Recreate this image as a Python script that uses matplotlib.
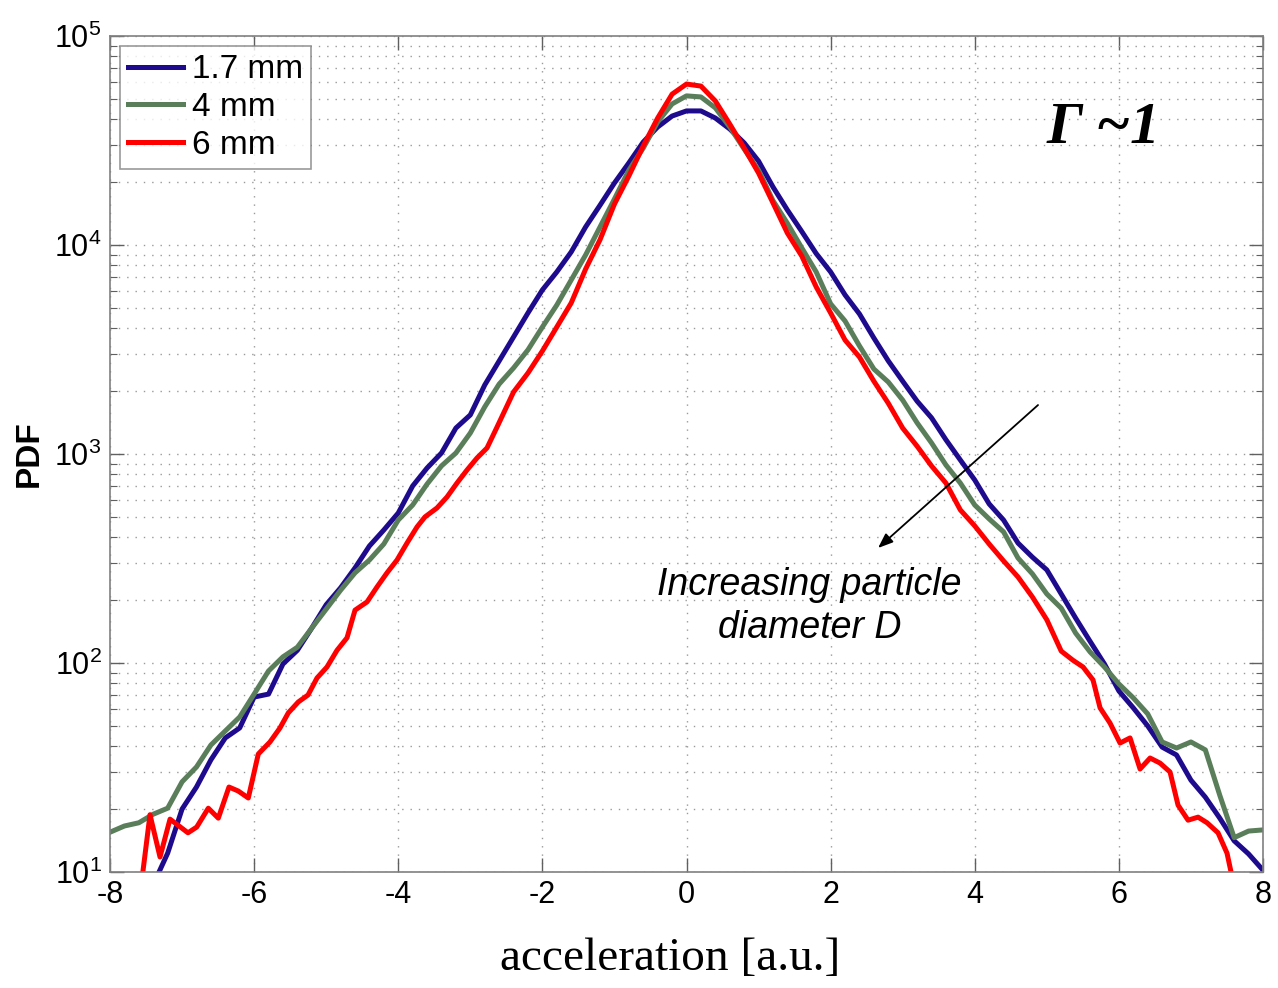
import numpy as np
import matplotlib
matplotlib.use("Agg")
import matplotlib.pyplot as plt
from matplotlib.ticker import LogLocator, FixedLocator

# ---------------- data ----------------
grid_x = [round(-8 + 0.2 * i, 1) for i in range(81)]

blue_y = [4, 5, 6.5, 8.7, 12.3, 20, 25.5, 34.4, 43.8, 48.9,
          68.7, 71, 98.9, 115, 147, 190, 229, 285, 363, 433,
          522, 703, 857, 1011, 1331, 1538, 2138, 2786, 3630, 4730,
          6095, 7430, 9260, 12200, 15500, 19800, 24700, 31100, 36700, 41400,
          43800, 43800, 40500, 35900, 30800, 25200, 18960, 14700, 11600, 9100,
          7430, 5770, 4680, 3590, 2790, 2230, 1790, 1490, 1170, 936,
          751, 577, 483, 375, 321, 279, 214, 164, 127, 98.9,
          73.5, 61, 50, 39.6, 36.3, 27.5, 22.8, 18.1, 14.1, 12.2,
          10.2]

green_y = [15.5, 16.6, 17.2, 18.9, 20.2, 27, 31.8, 40.5, 47.3, 55.2,
           71, 91.6, 107, 119, 147, 181, 223, 270, 311, 371,
           483, 570, 718, 877, 1011, 1260, 1680, 2160, 2580, 3150,
           4050, 5160, 6800, 8960, 12200, 16600, 22800, 29100, 38800, 47300,
           51700, 51100, 45300, 36700, 28800, 22800, 16300, 12700, 9680, 7430,
           5230, 4330, 3290, 2550, 2210, 1810, 1410, 1130, 886, 726,
           570, 489, 424, 318, 267, 214, 183, 139, 113, 95.7,
           79.4, 68.1, 57.1, 41.9, 39.2, 41.9, 38.4, 23.3, 14.6, 15.7,
           15.9]

red_x = [-7.6, -7.445, -7.306, -7.167, -6.918, -6.797, -6.636, -6.497, -6.349, -6.22,
         -6.081, -5.942, -5.78, -5.641, -5.526, -5.387, -5.252, -5.127, -4.989, -4.85,
         -4.711, -4.6, -4.433, -4.295, -4.156, -4.017, -3.878, -3.739, -3.629, -3.462,
         -3.323, -3.185, -3.046, -2.907, -2.768, -2.629,
         -2.4, -2.2, -2.0, -1.8, -1.6, -1.4, -1.2, -1.0, -0.8, -0.6,
         -0.4, -0.2, 0.0, 0.2, 0.4, 0.6, 0.8, 1.0, 1.2, 1.4,
         1.6, 1.8, 2.0, 2.2, 2.4, 2.6, 2.8, 3.0, 3.2, 3.4,
         3.6, 3.8, 4.0, 4.2, 4.4, 4.6, 4.8, 5.0, 5.2,
         5.364, 5.503, 5.641, 5.739, 5.877, 6.016, 6.155, 6.294, 6.433, 6.571,
         6.71, 6.821, 6.96, 7.099, 7.224, 7.376, 7.501, 7.6]
red_y = [7, 18.8, 11.8, 17.9, 15.4, 16.4, 20.2, 18.1, 25.5, 24.4,
         22.6, 36.7, 41.9, 48.9, 57.7, 65.1, 70.3, 84.8, 95.7, 115,
         132, 179, 196, 231, 270, 311, 375, 448, 500, 552,
         623, 726, 838, 957, 1069, 1346,
         1980, 2440, 3110, 4050, 5280, 7670, 10600, 15700, 21400, 29800,
         40500, 52700, 58900, 57600, 48900, 37900, 29100, 22100, 15900, 11400,
         8850, 6300, 4730, 3510, 2910, 2230, 1750, 1330, 1090, 877,
         726, 540, 453, 371, 308, 258, 207, 161, 114,
         103, 95.7, 83, 61, 51.6, 41.4, 43.8, 31.1, 35.1, 33.2,
         30.1, 20.9, 17.7, 18.3, 17.2, 15.4, 12.3, 8.5]

labels = ["1.7 mm", "4 mm", "6 mm"]
colors = ["#1e0a8c", "#5a7d5a", "#ff0000"]
x_ticks = [-8, -6, -4, -2, 0, 2, 4, 6, 8]

# ---------------- figure ----------------
sans = ["Liberation Sans", "DejaVu Sans"]
plt.rcParams["font.family"] = sans
plt.rcParams["mathtext.fontset"] = "custom"
plt.rcParams["mathtext.rm"] = "Liberation Sans"
plt.rcParams["axes.unicode_minus"] = False

fig = plt.figure(figsize=(12.78, 9.88), dpi=100)
ax = fig.add_axes([110 / 1278, 1 - 872 / 988, (1263 - 110) / 1278, (872 - 36) / 988])

ax.plot(grid_x, blue_y, color=colors[0], lw=3.6, label=labels[0])
ax.plot(grid_x, green_y, color=colors[1], lw=3.6, label=labels[1])
ax.plot(red_x, red_y, color=colors[2], lw=3.6, label=labels[2])

ax.set_yscale("log")
ax.set_xlim(-8, 8)
ax.set_ylim(10, 1e5)
ax.xaxis.set_major_locator(FixedLocator(x_ticks))
ax.yaxis.set_major_locator(LogLocator(base=10, numticks=10))
ax.yaxis.set_minor_locator(LogLocator(base=10, subs=np.arange(2, 10), numticks=50))

grid_style = dict(color="#9a9a9a", linestyle=(0, (1, 5)), linewidth=1.0)
ax.grid(True, which="major", axis="x", **grid_style)
ax.grid(True, which="both", axis="y", **grid_style)
ax.set_axisbelow(True)

for s in ax.spines.values():
    s.set_color("#808080")
    s.set_linewidth(1.2)
ax.tick_params(which="both", direction="in", top=True, right=True,
               color="#606060", labelsize=22, pad=6)
ax.tick_params(which="major", length=10, width=1.0)
ax.tick_params(which="minor", length=5, width=0.8)

ax.set_xlabel("acceleration [a.u.]", family="Liberation Serif", fontsize=34)
ax.xaxis.set_label_coords(0.486, -0.078)
ax.set_ylabel("PDF", fontsize=24, fontweight="bold", labelpad=7)

leg = ax.legend(loc="upper left", fontsize=24, frameon=True, fancybox=False,
                borderpad=0.25, handlelength=1.65, handletextpad=0.25, labelspacing=0.2,
                borderaxespad=0.3)
leg.get_frame().set_edgecolor("#808080")
leg.get_frame().set_linewidth(1.2)

ax.text(0.862, 0.889, r"Γ ~1", transform=ax.transAxes, ha="center", va="center",
        family="Liberation Serif", fontsize=43, fontweight="bold", style="italic")

ax.annotate("", xy=(2.658, 355), xytext=(4.878, 1715),
            arrowprops=dict(arrowstyle="-|>,head_length=0.9,head_width=0.35",
                            color="black", lw=1.3, shrinkA=0, shrinkB=0))
ax.text(1.71, 187, "Increasing particle\ndiameter D", ha="center", va="center",
        fontsize=27, style="italic", linespacing=1.25)

fig.savefig("out.png", dpi=100, facecolor="white")
